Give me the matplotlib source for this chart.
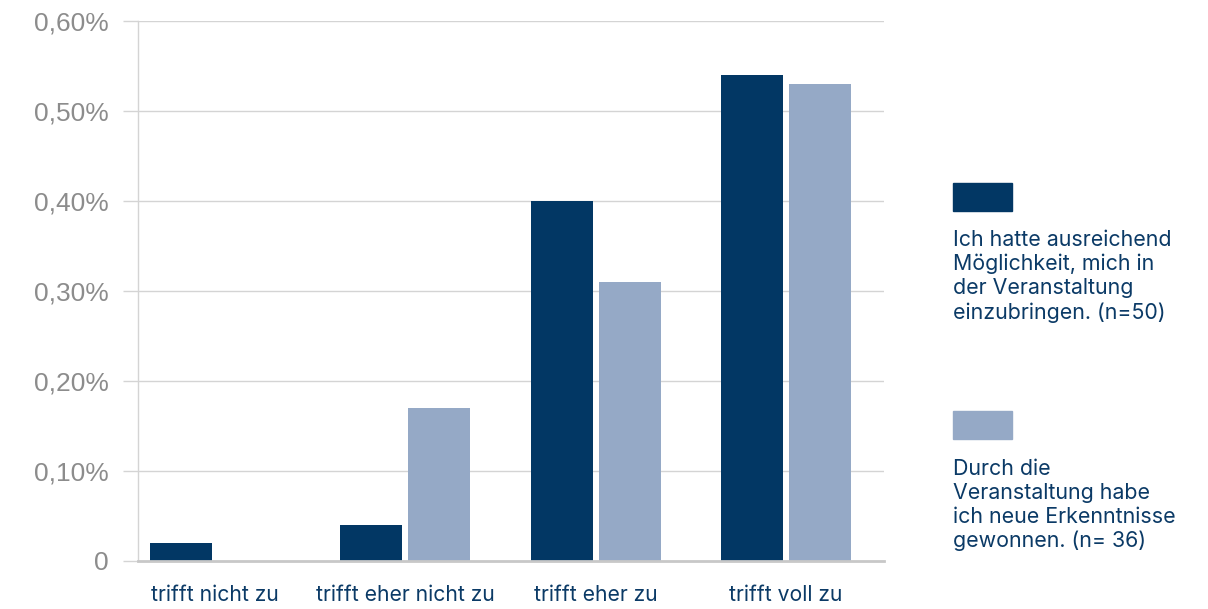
import matplotlib
matplotlib.use("Agg")
import matplotlib.pyplot as plt
import numpy as np

categories = ["trifft nicht zu", "trifft eher nicht zu", "trifft eher zu", "trifft voll zu"]
series1_name = "Ich hatte ausreichend\nMöglichkeit, mich in\nder Veranstaltung\neinzubringen. (n=50)"
series2_name = "Durch die\nVeranstaltung habe\nich neue Erkenntnisse\ngewonnen. (n= 36)"
series1 = [0.02, 0.04, 0.40, 0.54]
series2 = [0.0, 0.17, 0.31, 0.53]
yticks = [0, 0.1, 0.2, 0.3, 0.4, 0.5, 0.6]
ytick_labels = ["0", "0,10%", "0,20%", "0,30%", "0,40%", "0,50%", "0,60%"]

c1 = "#023764"
c2 = "#95a9c6"
txt = "#0b3a66"
grid = "#d4d4d4"
gray = "#8c8c8c"

fig = plt.figure(figsize=(12.08, 6.09), dpi=100)
ax = fig.add_axes([138/1208, 48/609, (884-138)/1208, (561-21)/609])

x = np.arange(len(categories))
w = 0.326
off = 0.179
ax.bar(x - off, series1, w, color=c1, zorder=3)
ax.bar(x + off, series2, w, color=c2, zorder=3)

ax.set_xlim(-0.405, 3.515)
ax.set_ylim(0, 0.6)
ax.set_yticks(yticks)
ax.set_yticklabels(ytick_labels, fontfamily="Liberation Sans", fontsize=19, color=gray)
ax.tick_params(axis="y", length=11, color=grid, width=1, pad=10)
ax.set_xticks(x)
ax.set_xticklabels(categories, fontfamily="Inter", fontsize=15.2, color=txt)
ax.tick_params(axis="x", length=0, pad=17)
ax.grid(axis="y", color=grid, linewidth=1, zorder=0)
for s in ["top", "right"]:
    ax.spines[s].set_visible(False)
ax.spines["left"].set_color(grid)
ax.spines["left"].set_linewidth(1)
ax.spines["bottom"].set_color("#c8c8c8")
ax.spines["bottom"].set_linewidth(2)
ax.spines["bottom"].set_zorder(4)

# legend
fig.patches.append(plt.Rectangle((953/1208, 1-211/609), 59/1208, 28/609, color=c1, transform=fig.transFigure))
fig.patches.append(plt.Rectangle((953/1208, 1-439/609), 59/1208, 28/609, color=c2, transform=fig.transFigure))
fig.text(953/1208, 1-230/609, series1_name, fontfamily="Inter", fontsize=15.4, color=txt, va="top", ha="left", linespacing=1.24)
fig.text(953/1208, 1-459/609, series2_name, fontfamily="Inter", fontsize=15.4, color=txt, va="top", ha="left", linespacing=1.24)

fig.savefig("out.png", dpi=100)
